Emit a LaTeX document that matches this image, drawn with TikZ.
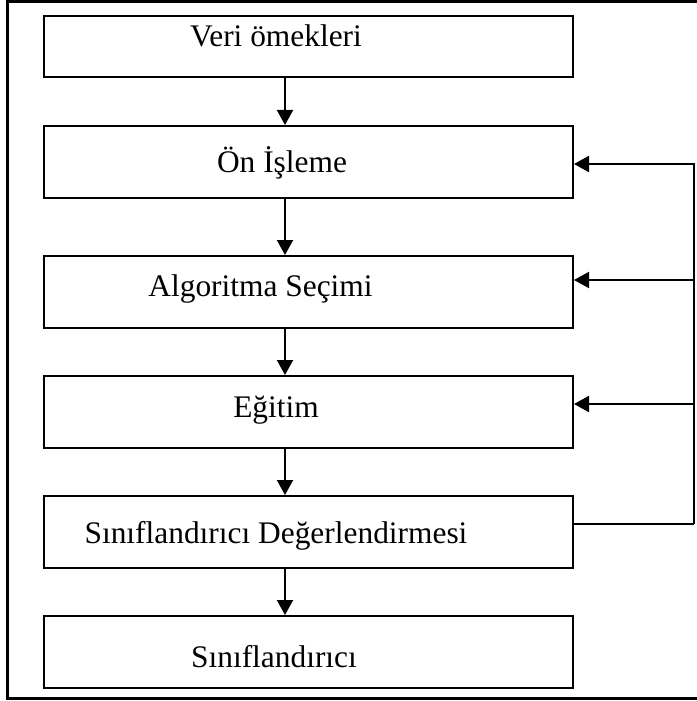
\documentclass[tikz,border=0pt]{standalone}
\usepackage{fontspec}
\setmainfont{Liberation Serif}
\usetikzlibrary{arrows.meta,positioning,calc}

\begin{document}
\begin{tikzpicture}[x=0.5pt, y=-0.5pt, node distance=23pt,
        box/.style={rectangle, draw, line width=1pt, minimum width=264.5pt, minimum height=36pt, inner sep=0pt},
        lbl/.style={anchor=base, inner sep=0pt, font=\fontsize{15.7}{19}\selectfont},
        flow/.style={-{Triangle[width=8pt,length=7.5pt]}, line width=1pt}]

    \useasboundingbox (0,0) rectangle (696,701);
    % outer frame, right side falls off the page
    \draw[line width=1.5pt] (7.5,1.7) rectangle (705,698);

    \node[box, minimum height=30.5pt, anchor=north west] (veri) at (43,15) {};
    \node[box, below=23.5pt of veri] (onisleme) {};
    \node[box, below=28pt of onisleme] (secim) {};
    \node[box, below=of secim] (egitim) {};
    \node[box, below=of egitim] (degerlendirme) {};
    \node[box, below=of degerlendirme] (siniflandirici) {};

    \node[lbl] (tveri) at (276,47) {Veri ömekleri};
    \node[lbl] (tonisleme) at (282,172) {Ön İşleme};
    \node[lbl] (tsecim) at (260.5,296) {Algoritma Seçimi};
    \node[lbl] (tegitim) at (276,417) {Eğitim};
    \node[lbl] (tdegerlendirme) at (276,543) {Sınıflandırıcı Değerlendirmesi};
    \node[lbl] (tsiniflandirici) at (274,667) {Sınıflandırıcı};

    \draw[flow] ([xshift=-11.75pt]veri.south) -- ([xshift=-11.75pt]onisleme.north);
    \draw[flow] ([xshift=-11.75pt]onisleme.south) -- ([xshift=-11.75pt]secim.north);
    \draw[flow] ([xshift=-11.75pt]secim.south) -- ([xshift=-11.75pt]egitim.north);
    \draw[flow] ([xshift=-11.75pt]egitim.south) -- ([xshift=-11.75pt]degerlendirme.north);
    \draw[flow] ([xshift=-11.75pt]degerlendirme.south) -- ([xshift=-11.75pt]siniflandirici.north);

    % feedback line
    \draw[line width=1pt] ([yshift=4pt]degerlendirme.east) -- ++(60pt,0) coordinate (kose);
    \draw[flow] (kose) |- ([yshift=-1pt]onisleme.east);
    \draw[flow] (kose) |- ([yshift=6pt]secim.east);
    \draw[flow] (kose) |- ([yshift=4pt]egitim.east);
\end{tikzpicture}
\end{document}
